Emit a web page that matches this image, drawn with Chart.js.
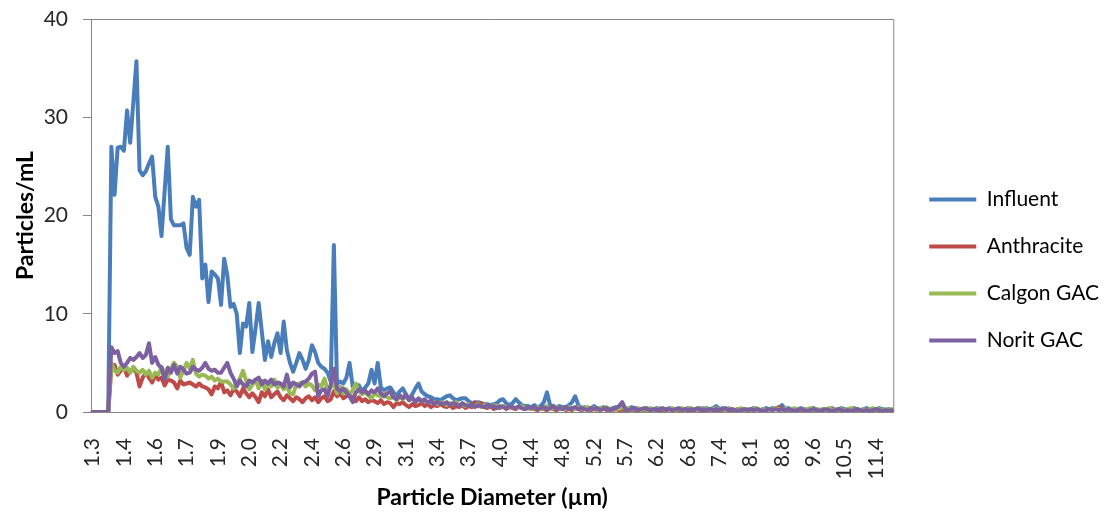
<!DOCTYPE html>
<html><head><meta charset="utf-8">
<script src="https://cdn.jsdelivr.net/npm/chart.js@4/dist/chart.umd.min.js"></script>
<style>html,body{margin:0;padding:0;background:#fff}</style>
</head><body>
<canvas id="c" width="1110" height="517"></canvas>
<script>
const tickLabels = ['1.3','1.4','1.6','1.7','1.9','2.0','2.2','2.4','2.6','2.9','3.1','3.4','3.7','4.0','4.4','4.8','5.2','5.7','6.2','6.8','7.4','8.1','8.8','9.6','10.5','11.4'];
const pointsPerLabel = 10;
const pointCount = 256;
const seriesNames = ['Influent','Anthracite','Calgon GAC','Norit GAC'];
const seriesColors = ['#4A7EBB','#BE4B48','#98B954','#7D60A0'];

const influent = [
0,0,0,0,0,0,27.0,22.1,26.9,27.0,
26.6,30.7,27.4,31.5,35.7,24.6,24.1,24.5,25.3,26.0,
21.9,20.9,17.9,22.5,27.0,19.6,19.0,19.0,19.0,19.2,
16.7,16.0,21.9,20.9,21.6,13.6,15.0,11.2,14.3,14.0,
13.6,10.9,15.6,13.9,10.7,11.0,10.0,6.0,9.0,8.7,
11.1,6.1,8.5,11.1,8.2,5.3,7.2,5.6,7.0,8.0,
6.0,9.2,6.3,5.0,4.1,5.0,6.0,5.3,4.4,5.3,
6.8,6.1,5.0,4.6,4.4,4.0,3.1,17.0,2.9,3.1,
2.9,3.5,5.0,2.6,2.8,2.7,2.1,2.5,2.9,4.3,
2.9,5.0,2.5,2.2,2.4,2.5,2.0,1.6,2.1,2.4,
1.8,1.3,1.8,2.4,2.9,2.1,1.8,1.6,1.5,1.3,
1.3,1.2,1.4,1.6,1.7,1.4,1.2,1.3,1.4,1.4,
1.1,0.9,0.9,1.0,0.9,0.8,0.8,0.7,0.8,0.9,
1.2,1.3,0.9,0.7,0.9,1.3,1.0,0.7,0.6,0.6,
0.5,0.7,0.5,0.6,1.0,2.0,0.7,0.6,0.5,0.6,
0.5,0.5,0.7,1.0,1.6,0.7,0.4,0.5,0.3,0.4,
0.6,0.4,0.3,0.5,0.4,0.3,0.4,0.5,0.3,0.2,
0.4,0.3,0.5,0.4,0.3,0.2,0.3,0.4,0.2,0.3,
0.4,0.3,0.2,0.3,0.4,0.3,0.2,0.3,0.2,0.3,
0.4,0.3,0.2,0.3,0.4,0.3,0.4,0.3,0.4,0.6,
0.3,0.4,0.3,0.2,0.3,0.2,0.3,0.2,0.3,0.2,
0.3,0.4,0.3,0.2,0.3,0.4,0.3,0.4,0.3,0.4,
0.7,0.3,0.4,0.3,0.2,0.3,0.4,0.3,0.2,0.3,
0.4,0.3,0.2,0.3,0.2,0.3,0.4,0.2,0.3,0.4,
0.3,0.2,0.3,0.4,0.3,0.2,0.3,0.4,0.3,0.2,
0.3,0.4,0.3,0.2,0.3,0.2];

const anthracite = [
0,0,0,0,0,0,4.5,4.8,3.8,4.2,
4.6,3.7,4.2,4.4,4.0,2.6,3.5,4.0,3.5,3.0,
3.8,3.3,3.5,2.7,3.3,3.2,3.0,2.4,3.2,2.8,
2.9,3.0,2.8,2.6,2.9,2.6,2.5,2.3,1.8,2.6,
2.4,3.1,2.0,2.2,1.7,2.3,2.1,1.6,2.4,1.9,
1.5,1.9,1.5,1.0,2.0,1.6,2.3,1.5,1.8,2.1,
1.5,1.2,1.7,1.4,1.1,1.5,1.3,1.0,1.4,1.6,
1.2,1.5,1.0,1.4,1.6,1.1,1.3,2.1,1.6,1.9,
1.4,1.6,1.9,1.3,1.1,1.5,1.1,1.3,1.0,1.2,
1.1,0.9,1.2,0.8,1.0,0.9,0.5,0.9,0.8,1.0,
0.7,0.5,0.8,0.6,0.7,0.9,0.6,0.8,0.5,0.7,
0.6,0.8,0.6,0.5,0.7,0.4,0.6,0.5,0.7,0.4,
0.6,0.5,1.0,0.6,0.9,0.5,0.4,0.6,0.3,0.5,
0.4,0.6,0.3,0.5,0.4,0.3,0.5,0.4,0.3,0.4,
0.3,0.3,0.2,0.4,0.3,0.2,0.4,0.3,0.2,0.3,
0.4,0.2,0.3,0.2,0.4,0.3,0.2,0.3,0.4,0.2,
0.3,0.2,0.3,0.4,0.2,0.3,0.2,0.3,0.2,0.3,
0.2,0.3,0.2,0.1,0.2,0.3,0.2,0.1,0.2,0.3,
0.2,0.2,0.1,0.2,0.3,0.2,0.1,0.2,0.3,0.2,
0.1,0.2,0.3,0.2,0.1,0.2,0.1,0.2,0.3,0.2,
0.1,0.2,0.3,0.2,0.1,0.2,0.3,0.2,0.1,0.2,
0.1,0.2,0.3,0.2,0.1,0.2,0.3,0.2,0.4,0.5,
0.3,0.2,0.1,0.2,0.3,0.2,0.1,0.2,0.1,0.2,
0.3,0.2,0.1,0.2,0.1,0.2,0.3,0.1,0.2,0.1,
0.2,0.1,0.2,0.3,0.1,0.2,0.1,0.2,0.1,0.2,
0.1,0.2,0.1,0.2,0.1,0.2];

const calgon = [
0,0,0,0,0,0,5.0,4.2,4.0,4.6,
4.3,4.5,4.0,4.6,4.2,4.0,4.3,3.8,4.2,3.5,
4.0,3.8,4.6,4.0,3.6,4.4,5.0,4.6,3.5,4.2,
5.0,4.4,5.3,3.9,3.6,3.8,3.7,3.4,3.6,3.2,
3.4,3.1,3.1,3.1,2.8,2.4,2.9,3.4,4.2,3.2,
2.3,2.8,3.3,2.4,3.2,2.3,3.0,2.6,3.3,2.5,
2.8,2.3,2.6,1.9,1.8,2.8,2.9,3.0,2.6,2.9,
2.7,2.2,2.8,2.6,3.4,2.2,2.5,3.0,1.9,2.6,
1.9,2.3,1.8,2.2,2.9,2.1,1.8,2.0,1.7,1.4,
1.9,1.7,1.6,1.9,1.5,1.4,1.6,1.2,1.5,1.3,
1.6,1.2,1.4,1.1,1.3,1.1,1.2,0.9,1.1,1.0,
0.8,1.0,0.9,0.7,0.9,0.8,1.0,0.7,0.8,0.6,
0.8,0.7,0.6,0.8,0.5,0.7,0.6,0.5,0.7,0.6,
0.5,0.6,0.4,0.6,0.5,0.4,0.5,0.6,0.4,0.5,
0.3,0.4,0.5,0.3,0.4,0.6,0.3,0.4,0.5,0.3,
0.4,0.3,0.5,0.4,0.3,0.5,0.3,0.4,0.5,0.3,
0.4,0.2,0.4,0.3,0.5,0.3,0.2,0.4,0.3,0.5,
0.3,0.4,0.2,0.3,0.4,0.2,0.3,0.2,0.4,0.3,
0.2,0.4,0.3,0.2,0.3,0.4,0.2,0.3,0.4,0.2,
0.3,0.4,0.3,0.2,0.3,0.4,0.3,0.2,0.3,0.4,
0.2,0.3,0.2,0.4,0.3,0.2,0.3,0.4,0.2,0.3,
0.2,0.3,0.4,0.2,0.3,0.2,0.3,0.2,0.4,0.3,
0.2,0.3,0.2,0.3,0.4,0.2,0.3,0.2,0.3,0.4,
0.2,0.3,0.2,0.3,0.2,0.4,0.2,0.3,0.2,0.3,
0.2,0.3,0.4,0.2,0.3,0.2,0.3,0.2,0.3,0.4,
0.2,0.3,0.2,0.3,0.2,0.3];

const norit = [
0,0,0,0,0,0,6.6,6.0,6.2,5.0,
4.6,5.0,5.5,5.3,5.6,6.0,5.5,5.8,7.0,5.0,
5.6,4.8,4.5,3.3,4.5,4.0,4.8,3.9,4.6,4.3,
3.9,4.0,4.6,4.3,4.2,4.5,5.0,4.4,4.2,4.3,
4.0,4.0,4.5,5.0,4.0,3.4,2.6,3.2,2.8,2.6,
3.2,3.0,3.3,3.5,2.8,3.2,2.9,3.3,2.8,3.0,
2.9,2.6,3.8,2.5,3.0,2.8,2.6,3.0,3.1,3.4,
3.9,4.1,1.6,2.2,2.3,1.6,2.8,4.4,2.4,2.1,
2.4,2.0,1.6,1.0,2.0,2.3,2.0,2.2,1.8,2.2,
2.0,2.4,1.9,1.6,1.9,2.1,1.5,1.3,1.7,1.4,
1.8,1.2,1.5,1.0,1.4,1.1,1.3,0.9,1.2,0.8,
1.0,0.9,0.8,1.0,0.7,0.9,0.8,0.6,0.9,0.7,
0.6,0.8,0.5,0.7,0.6,0.5,0.7,0.5,0.6,0.4,
0.6,0.5,0.4,0.6,0.5,0.4,0.6,0.4,0.3,0.5,
0.4,0.5,0.3,0.4,0.5,0.3,0.4,0.6,0.3,0.4,
0.3,0.5,0.3,0.4,0.5,0.3,0.4,0.3,0.2,0.4,
0.3,0.4,0.2,0.3,0.4,0.2,0.3,0.4,0.6,1.0,
0.3,0.2,0.3,0.4,0.2,0.3,0.4,0.3,0.2,0.3,
0.2,0.3,0.4,0.2,0.3,0.2,0.3,0.4,0.2,0.3,
0.2,0.3,0.2,0.4,0.2,0.3,0.2,0.3,0.2,0.3,
0.2,0.3,0.4,0.2,0.3,0.2,0.1,0.2,0.3,0.2,
0.3,0.2,0.3,0.2,0.1,0.2,0.3,0.2,0.3,0.2,
0.3,0.2,0.3,0.2,0.1,0.2,0.3,0.2,0.1,0.2,
0.3,0.2,0.1,0.2,0.3,0.2,0.1,0.2,0.3,0.2,
0.1,0.2,0.1,0.2,0.3,0.2,0.1,0.2,0.1,0.2,
0.3,0.2,0.1,0.2,0.1,0.2];

const seriesValues = [influent, anthracite, calgon, norit];
const categories = Array.from({length: pointCount}, (_, i) =>
  i % pointsPerLabel === 0 && tickLabels[i / pointsPerLabel] !== undefined ? tickLabels[i / pointsPerLabel] : '');

const FONT = 'Lato';
const frame = {
  id: 'frame',
  afterLayout(chart) {
    const lg = chart.legend;
    if (lg) { lg.left += 10; lg.right += 10; lg.top += 2; lg.bottom += 2; }
  },
  beforeDatasetsDraw(chart) {
    const {ctx, chartArea: a} = chart;
    ctx.save();
    ctx.strokeStyle = '#868686';
    ctx.lineWidth = 1;
    ctx.beginPath();
    ctx.moveTo(a.left, a.top + 0.5);
    ctx.lineTo(a.right + 0.5, a.top + 0.5);
    ctx.lineTo(a.right + 0.5, a.bottom);
    ctx.stroke();
    ctx.restore();
  }
};

new Chart(document.getElementById('c'), {
  type: 'line',
  data: {
    labels: categories,
    datasets: seriesNames.map((name, k) => ({
      label: name,
      data: seriesValues[k],
      borderColor: seriesColors[k],
      backgroundColor: seriesColors[k],
      borderWidth: 4,
      order: seriesNames.length - k
    }))
  },
  options: {
    responsive: false,
    animation: false,
    devicePixelRatio: 1,
    layout: { padding: { top: 19, right: 11, left: 0, bottom: 0 } },
    elements: {
      point: { radius: 0, hoverRadius: 0 },
      line: { tension: 0, borderJoinStyle: 'round', borderCapStyle: 'round', fill: false }
    },
    plugins: {
      tooltip: { enabled: false },
      legend: {
        position: 'right',
        maxWidth: 210,
        labels: {
          usePointStyle: true,
          pointStyle: 'line',
          pointStyleWidth: 47,
          padding: 26,
          color: '#000',
          font: { family: FONT, size: 21 },
          sort: (a, b) => a.datasetIndex - b.datasetIndex
        }
      }
    },
    scales: {
      x: {
        offset: true,
        grid: { display: false },
        border: { display: true, color: '#868686', width: 1 },
        ticks: {
          autoSkip: false, maxRotation: 90, minRotation: 90, padding: 18,
          color: '#262626', font: { family: FONT, size: 21 },
          callback: function (v) { return this.getLabelForValue(v); }
        },
        title: { display: true, text: 'Particle Diameter (µm)', color: '#000',
          font: { family: FONT, size: 23, weight: 'bold' }, padding: { top: 0, bottom: 6 } },
        afterFit(s) { s.height = 105; s.paddingLeft = 0; s.paddingRight = 0; }
      },
      y: {
        min: 0, max: 40,
        grid: { drawOnChartArea: false, drawTicks: true, tickLength: 8, color: '#868686' },
        border: { display: true, color: '#868686', width: 1 },
        ticks: { stepSize: 10, padding: 15, color: '#262626', font: { family: FONT, size: 21 } },
        title: { display: true, text: 'Particles/mL', color: '#000',
          font: { family: FONT, size: 23, weight: 'bold' }, padding: { top: 12, bottom: 0 } },
        afterFit(s) { s.width = 91; s.paddingTop = 0; s.paddingBottom = 0; }
      }
    }
  },
  plugins: [frame]
});
</script>
</body></html>
